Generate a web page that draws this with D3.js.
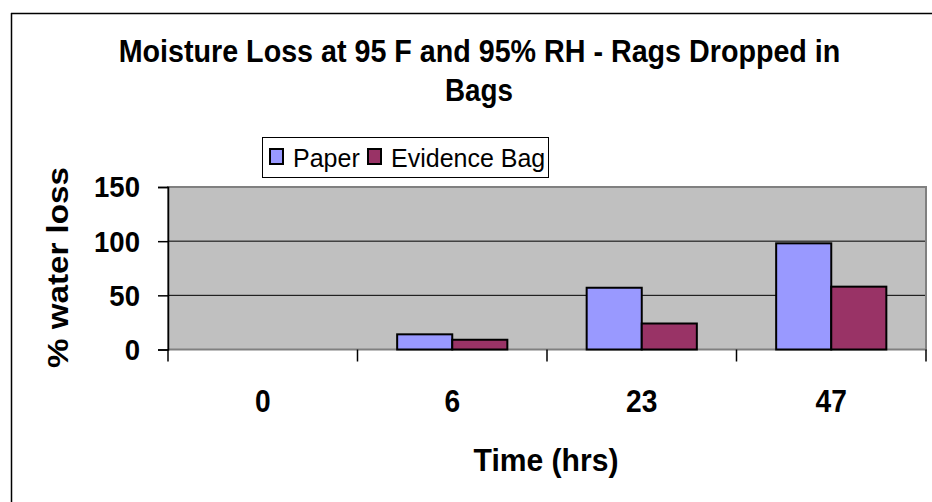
<!DOCTYPE html>
<html>
<head>
<meta charset="utf-8">
<script src="https://cdn.jsdelivr.net/npm/d3@7"></script>
<style>
  html, body { margin: 0; background: #fff; overflow: hidden; }
  svg { display: block; font-family: 'Liberation Sans', Arial, sans-serif; }
</style>
</head>
<body>
<div id="chart"></div>
<script>
const CATEGORIES = ['0', '6', '23', '47']
const SERIES = ['Paper', 'Evidence Bag']
const PAPER = [0, 14, 57, 98]
const EVIDENCE = [0, 9, 24, 58]
const Y_TICKS = [0, 50, 100, 150]

const COLORS = { 'Paper': '#9999ff', 'Evidence Bag': '#993366' }

const W = 932, H = 502
const plot = { left: 168, right: 926, top: 187, bottom: 349.5 }

const svg = d3.select('#chart').append('svg').attr('width', W).attr('height', H)

// squeeze/stretch a text to a given width, like the original's scaled fonts
function placeText(str, cx, cy, opts) {
  const g = svg.append('g')
  const t = g.append('text')
    .attr('text-anchor', opts.anchor || 'middle')
    .attr('font-size', opts.size + 'px')
    .attr('font-weight', opts.weight || 'bold')
    .attr('fill', '#000')
    .text(str)
  if (opts.central) t.attr('dy', '0.36em')
  const k = opts.width ? opts.width / t.node().getComputedTextLength() : (opts.sx || 1)
  g.attr('transform', `translate(${cx},${cy}) rotate(${opts.rotate || 0}) scale(${k},1)`)
  return g
}

// outer chart frame: the chart is cropped, only the top and left edges show
svg.append('line').attr('x1', 11).attr('x2', W).attr('y1', 13.5).attr('y2', 13.5)
  .attr('stroke', '#000').attr('stroke-width', 1.5)
svg.append('line').attr('x1', 11.5).attr('x2', 11.5).attr('y1', 13).attr('y2', H)
  .attr('stroke', '#000').attr('stroke-width', 1.5)

const x0 = d3.scaleBand().domain(CATEGORIES).range([plot.left, plot.right])
const x1 = d3.scaleBand().domain(SERIES).range([0, x0.bandwidth()]).paddingInner(0).paddingOuter(0.72)
const y = d3.scaleLinear().domain([0, 150]).range([plot.bottom, plot.top])

// plot background
svg.append('rect')
  .attr('x', plot.left).attr('y', plot.top)
  .attr('width', plot.right - plot.left).attr('height', plot.bottom - plot.top)
  .attr('fill', '#c0c0c0')

// gridlines
svg.append('g').selectAll('line').data(Y_TICKS.filter(d => d > 0 && d < 150)).join('line')
  .attr('x1', plot.left).attr('x2', plot.right)
  .attr('y1', d => y(d)).attr('y2', d => y(d))
  .attr('stroke', '#000').attr('stroke-width', 1)

// plot border
svg.append('rect')
  .attr('x', plot.left).attr('y', plot.top)
  .attr('width', plot.right - plot.left).attr('height', plot.bottom - plot.top)
  .attr('fill', 'none').attr('stroke', '#808080').attr('stroke-width', 2)

// bars
const rows = CATEGORIES.map((c, i) => ({ cat: c, values: [PAPER[i], EVIDENCE[i]] }))
rows.forEach(row => {
  SERIES.forEach((s, j) => {
    const v = row.values[j]
    if (!v) return
    svg.append('rect')
      .attr('x', x0(row.cat) + x1(s))
      .attr('y', y(v))
      .attr('width', x1.bandwidth())
      .attr('height', y(0) - y(v))
      .attr('fill', COLORS[s])
      .attr('stroke', '#000').attr('stroke-width', 2)
  })
})

// y axis
const yAxis = svg.append('g').attr('transform', `translate(${plot.left},0)`)
  .call(d3.axisLeft(y).tickValues(Y_TICKS).tickSize(10).tickFormat(''))
yAxis.select('.domain').attr('stroke', '#000').attr('stroke-width', 1.5)
yAxis.selectAll('.tick line').attr('stroke', '#000').attr('stroke-width', 1.5)
Y_TICKS.forEach(v => placeText(String(v), 140, y(v), { size: 29, anchor: 'end', central: true, sx: 0.95 }))

// x axis ticks at band boundaries
const bounds = CATEGORIES.map(c => x0(c)).concat([plot.right])
svg.append('g').selectAll('line').data(bounds).join('line')
  .attr('x1', d => d).attr('x2', d => d)
  .attr('y1', plot.bottom).attr('y2', plot.bottom + 12)
  .attr('stroke', '#000').attr('stroke-width', 1.5)
CATEGORIES.forEach(c => placeText(c, x0(c) + x0.bandwidth() / 2, 412, { size: 32, sx: 0.88 }))

// titles
placeText('Moisture Loss at 95 F and 95% RH - Rags Dropped in', 479.5, 62, { size: 31.5, width: 722 })
placeText('Bags', 479, 101, { size: 31.5, width: 68 })
placeText('Time (hrs)', 546, 471, { size: 32, width: 145 })
placeText('% water loss', 68, 267.5, { size: 29.5, rotate: -90, width: 201 })

// legend
const legend = svg.append('g').attr('transform', 'translate(262,137)')
legend.append('rect').attr('x', 0.5).attr('y', 0.5).attr('width', 286).attr('height', 40)
  .attr('fill', '#fff').attr('stroke', '#000').attr('stroke-width', 1)
const legendX = [8, 106]
SERIES.forEach((s, i) => {
  legend.append('rect')
    .attr('x', legendX[i]).attr('y', 12).attr('width', 13).attr('height', 15)
    .attr('fill', COLORS[s]).attr('stroke', '#000').attr('stroke-width', 2)
  legend.append('text')
    .attr('x', legendX[i] + 23).attr('y', 30)
    .attr('font-size', '25px').attr('fill', '#000')
    .text(s)
})
</script>
</body>
</html>
